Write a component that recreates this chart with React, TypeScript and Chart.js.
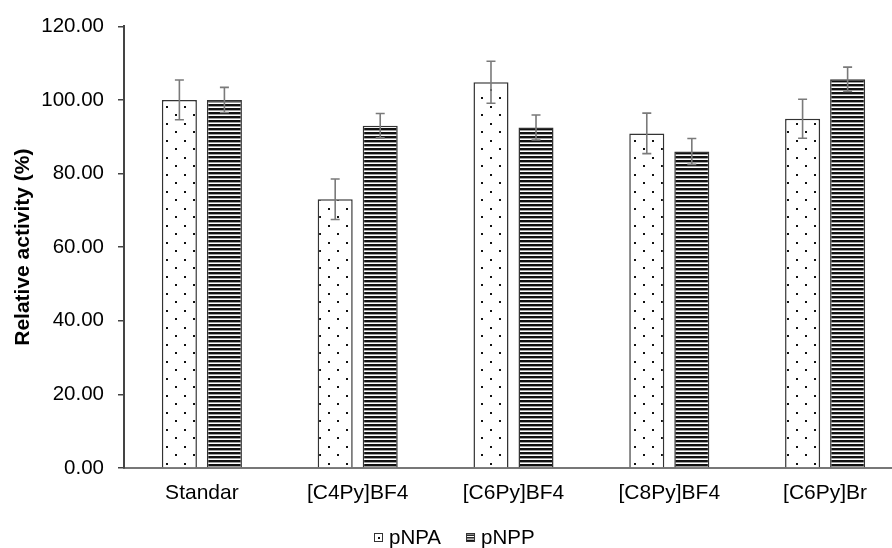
import React, { useEffect, useRef } from "react";
import { Chart, registerables } from "chart.js";

Chart.register(...registerables);

const categories = ["Standar", "[C4Py]BF4", "[C6Py]BF4", "[C8Py]BF4", "[C6Py]Br"];
const seriesNames = ["pNPA", "pNPP"];
const pNPA = [100, 73, 104.8, 90.9, 94.9];
const pNPAErr = [5.4, 5.5, 5.7, 5.5, 5.3];
const pNPP = [100, 93, 92.5, 86, 105.6];
const pNPPErr = [3.4, 3.3, 3.4, 3.5, 3.3];
const yTicks = [0, 20, 40, 60, 80, 100, 120];

const FONT = "'Liberation Sans', Arial, Helvetica, sans-serif";

function makeDotPattern(): CanvasPattern | string {
  const c = document.createElement("canvas");
  c.width = 18;
  c.height = 17;
  const ctx = c.getContext("2d");
  if (!ctx) return "#fff";
  ctx.fillStyle = "#fff";
  ctx.fillRect(0, 0, 18, 17);
  ctx.fillStyle = "#111";
  ctx.fillRect(4, 4, 2, 2);
  ctx.fillRect(13, 12, 2, 2);
  return ctx.createPattern(c, "repeat") || "#fff";
}

function makeStripePattern(): CanvasPattern | string {
  const c = document.createElement("canvas");
  c.width = 8;
  c.height = 4;
  const ctx = c.getContext("2d");
  if (!ctx) return "#000";
  ctx.fillStyle = "#fff";
  ctx.fillRect(0, 0, 8, 4);
  ctx.fillStyle = "#111";
  ctx.fillRect(0, 0, 8, 2.4);
  return ctx.createPattern(c, "repeat") || "#000";
}

const errorBarPlugin = {
  id: "errorBars",
  afterDatasetsDraw(chart: any) {
    const ctx = chart.ctx;
    const yScale = chart.scales.y;
    const errs = [pNPAErr, pNPPErr];
    chart.data.datasets.forEach((ds: any, i: number) => {
      const meta = chart.getDatasetMeta(i);
      meta.data.forEach((el: any, j: number) => {
        const v = ds.data[j];
        const e = errs[i][j];
        const yTop = yScale.getPixelForValue(v + e);
        const yBot = yScale.getPixelForValue(v - e);
        const x = el.x;
        ctx.save();
        ctx.strokeStyle = "#7a7a7a";
        ctx.lineWidth = 1.6;
        ctx.beginPath();
        ctx.moveTo(x, yTop);
        ctx.lineTo(x, yBot);
        ctx.moveTo(x - 4.5, yTop);
        ctx.lineTo(x + 4.5, yTop);
        ctx.moveTo(x - 4.5, yBot);
        ctx.lineTo(x + 4.5, yBot);
        ctx.stroke();
        ctx.restore();
      });
    });
  },
};

const legendPlugin = {
  id: "patternLegend",
  afterDraw(chart: any) {
    const ctx = chart.ctx;
    const box = 8;
    const gap = 7;
    const itemGap = 25;
    const yc = 537;
    ctx.save();
    ctx.font = "20.5px " + FONT;
    ctx.textBaseline = "middle";
    ctx.textAlign = "left";
    const widths = seriesNames.map((n) => ctx.measureText(n).width);
    const total = widths.reduce((a, w) => a + box + gap + w, 0) + itemGap * (seriesNames.length - 1);
    let x = Math.round(chart.width / 2 - 1 - total / 2);
    seriesNames.forEach((name, i) => {
      const bx = x + 0.5;
      const by = Math.round(yc - box / 2) + 0.5;
      ctx.fillStyle = "#fff";
      ctx.fillRect(bx, by, box, box);
      ctx.fillStyle = "#111";
      if (i === 0) {
        ctx.fillRect(bx + 3.5, by + 3.5, 2, 2);
      } else {
        for (let k = 1; k < box; k += 2.6) ctx.fillRect(bx, by + k, box, 1.4);
      }
      ctx.strokeStyle = "#333";
      ctx.lineWidth = 1;
      ctx.strokeRect(bx, by, box, box);
      ctx.fillStyle = "#000";
      ctx.fillText(name, x + box + gap, yc + 1);
      x += box + gap + widths[i] + itemGap;
    });
    ctx.restore();
  },
};

export default function App() {
  const ref = useRef<HTMLCanvasElement>(null);

  useEffect(() => {
    document.body.style.margin = "0";
    const canvas = ref.current;
    if (!canvas) return;
    const dots = makeDotPattern();
    const stripes = makeStripePattern();
    const chart = new Chart(canvas, {
      type: "bar",
      data: {
        labels: categories,
        datasets: [
          {
            label: seriesNames[0],
            data: pNPA,
            backgroundColor: dots as any,
            borderColor: "#333",
            borderWidth: 1.5,
            categoryPercentage: 0.578,
            barPercentage: 0.778,
          },
          {
            label: seriesNames[1],
            data: pNPP,
            backgroundColor: stripes as any,
            borderColor: "#333",
            borderWidth: 1.5,
            categoryPercentage: 0.578,
            barPercentage: 0.778,
          },
        ],
      },
      options: {
        responsive: false,
        animation: false,
        layout: { padding: { top: 16, right: 7, left: 0, bottom: 0 } },
        plugins: {
          tooltip: { enabled: false },
          legend: { display: false },
        },
        scales: {
          x: {
            grid: { display: false },
            border: { display: true, color: "#777", width: 2 },
            ticks: {
              color: "#000",
              font: { family: FONT, size: 21 },
              padding: 5,
              maxRotation: 0,
              autoSkip: false,
            },
            afterFit: (scale: any) => {
              scale.height = 80;
            },
          },
          y: {
            min: 0,
            max: 120,
            afterBuildTicks: (axis: any) => {
              axis.ticks = yTicks.map((v) => ({ value: v }));
            },
            afterFit: (scale: any) => {
              scale.width = 124;
            },
            grid: {
              display: true,
              drawOnChartArea: false,
              drawTicks: true,
              tickLength: 6,
              color: "#444",
              lineWidth: 1.5,
            },
            border: { display: true, color: "#444", width: 2 },
            ticks: {
              color: "#000",
              font: { family: FONT, size: 20.5 },
              padding: 14,
              callback: (v: any) => Number(v).toFixed(2),
            },
            title: {
              display: true,
              text: "Relative activity (%)",
              color: "#000",
              font: { family: FONT, size: 21, weight: "bold" },
              padding: { top: 11, bottom: 0 },
            },
          },
        },
      },
      plugins: [errorBarPlugin, legendPlugin],
    });
    return () => chart.destroy();
  }, []);

  return (
    <div style={{ position: "fixed", left: 0, top: 0, width: 892, height: 548, overflow: "hidden", background: "#fff" }}>
      <canvas ref={ref} width={910} height={548} style={{ display: "block" }} />
    </div>
  );
}
